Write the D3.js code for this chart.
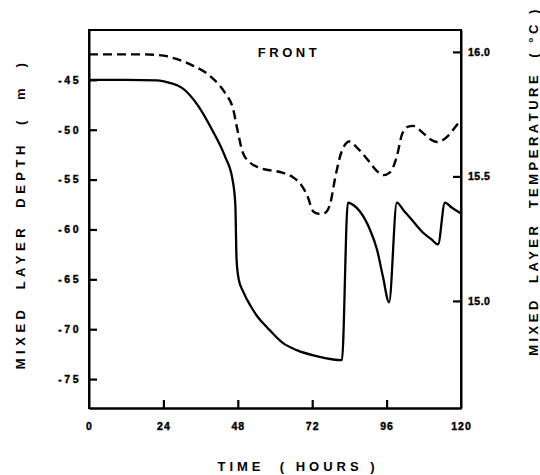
<!DOCTYPE html>
<html>
<head>
<meta charset="utf-8">
<script src="https://cdn.jsdelivr.net/npm/d3@7"></script>
<style>
  html, body { margin: 0; padding: 0; background: #fff; }
  svg { display: block; }
  text { font-family: "Liberation Sans", Arial, sans-serif; font-weight: bold; fill: #000; }
</style>
</head>
<body>
<svg id="chart" width="540" height="475"></svg>
<script>
// ---- data ----
const depthHours  = [0, 12, 22, 26, 30, 35, 39.7, 43.9, 46.3, 47.2, 47.6, 48.3, 49.7, 52, 54.5, 57.4, 62.6, 67, 73.5, 81.6, 83.5, 85.5, 87.4, 90.6, 92.9, 94.8, 96.8, 99.3, 101.5, 103.5, 107.7, 110.5, 112.6, 114.8, 117, 119, 120];
const depthValues = [-45, -45, -45.05, -45.3, -45.8, -47.5, -50, -52.7, -55, -57.5, -63, -65, -66.2, -67.6, -68.8, -69.8, -71.4, -72.1, -72.7, -73.1, -57.3, -57.6, -58.2, -60, -62, -64.7, -67.3, -57.3, -58.1, -58.8, -60.3, -61, -61.5, -57.3, -57.8, -58.2, -58.4];

const tempHours  = [0, 18, 24, 27, 33, 39.7, 43.9, 46.5, 48, 49.5, 52, 55, 62.6, 66, 68.5, 70.5, 72.3, 74, 76, 77.8, 79.5, 81.5, 84, 86.5, 89.7, 93, 95, 97, 99.3, 101, 103, 104.5, 107.7, 110, 112.3, 115.5, 118.7, 120];
const tempValues = [15.99, 15.99, 15.985, 15.976, 15.948, 15.896, 15.835, 15.77, 15.68, 15.6, 15.555, 15.535, 15.514, 15.495, 15.465, 15.42, 15.36, 15.35, 15.353, 15.39, 15.5, 15.6, 15.64, 15.615, 15.57, 15.52, 15.505, 15.515, 15.58, 15.67, 15.7, 15.703, 15.675, 15.65, 15.638, 15.659, 15.707, 15.727];

const xTicks = [0, 24, 48, 72, 96, 120];
const xTickLabels = ["0", "24", "48", "72", "96", "120"];
const depthTicks = [-45, -50, -55, -60, -65, -70, -75];
const depthTickLabels = ["-45", "-50", "-55", "-60", "-65", "-70", "-75"];
const tempTicks = [16.0, 15.5, 15.0];
const tempTickLabels = ["16.0", "15.5", "15.0"];

const xTitle = "TIME  ( HOURS )";
const leftTitle = "MIXED  LAYER  DEPTH  (  m  )";
const rightTitle = "MIXED  LAYER  TEMPERATURE  ( °C )";
const panelLabel = "FRONT";

// ---- layout ----
const mLeft = 89, mRight = 461, mTop = 30, mBottom = 408;
const tickIn = 8, tickOut = 2;
const svg = d3.select("#chart");

const x = d3.scaleLinear().domain([0, 120]).range([mLeft, mRight]);
const yDepth = d3.scaleLinear().domain([-77.9, -40]).range([mBottom, mTop]);
const yTemp = d3.scaleLinear().domain([14.57, 16.088]).range([mBottom, mTop]);

// axes with inward tick marks
const gx = svg.append("g").attr("transform", `translate(0,${mBottom})`)
  .call(d3.axisBottom(x).tickValues(xTicks.slice(1, -1)).tickSizeInner(-tickIn).tickSizeOuter(0).tickPadding(15)
    .tickFormat((d, i) => xTickLabels[i + 1]));
const gx2 = svg.append("g").attr("transform", `translate(0,${mBottom})`)
  .call(d3.axisBottom(x).tickValues([xTicks[0], xTicks[xTicks.length - 1]]).tickSize(0).tickPadding(15)
    .tickFormat((d, i) => i === 0 ? xTickLabels[0] : xTickLabels[xTickLabels.length - 1]));

const gl = svg.append("g").attr("transform", `translate(${mLeft},0)`)
  .call(d3.axisLeft(yDepth).tickValues(depthTicks).tickSizeInner(-tickIn).tickSizeOuter(0).tickPadding(8)
    .tickFormat((d, i) => depthTickLabels[i]));

const gr = svg.append("g").attr("transform", `translate(${mRight},0)`)
  .call(d3.axisRight(yTemp).tickValues(tempTicks).tickSizeInner(-tickIn).tickSizeOuter(0).tickPadding(7)
    .tickFormat((d, i) => tempTickLabels[i]));

gx.selectAll("text").style("font-size", "10.5px").attr("letter-spacing", "1px");
gx2.selectAll("text").style("font-size", "10.5px").attr("letter-spacing", "1px");
gl.selectAll("text").style("font-size", "10.5px").attr("letter-spacing", "2.5px");
gr.selectAll("text").style("font-size", "10.5px").attr("letter-spacing", "0.5px");

[gx, gx2, gl, gr].forEach(g => {
  g.select(".domain").attr("stroke", "#000").attr("stroke-width", 2);
  g.selectAll(".tick line").attr("stroke", "#000").attr("stroke-width", 2.2);
  g.selectAll("text").attr("stroke", "#000").attr("stroke-width", 0.4);
  g.attr("font-family", null).attr("font-size", null);
});

// top border
svg.append("line")
  .attr("x1", mLeft).attr("x2", mRight).attr("y1", mTop).attr("y2", mTop)
  .attr("stroke", "#000").attr("stroke-width", 2);
svg.append("line")
  .attr("x1", mLeft).attr("x2", mLeft).attr("y1", mTop - 1).attr("y2", mBottom + 1)
  .attr("stroke", "#000").attr("stroke-width", 2);
svg.append("line")
  .attr("x1", mRight).attr("x2", mRight).attr("y1", mTop - 1).attr("y2", mBottom + 1)
  .attr("stroke", "#000").attr("stroke-width", 2);

// lines
const depthData = depthHours.map((h, i) => [h, depthValues[i]]);
const tempData = tempHours.map((h, i) => [h, tempValues[i]]);

svg.append("path")
  .datum(depthData)
  .attr("fill", "none").attr("stroke", "#000").attr("stroke-width", 2.3)
  .attr("stroke-linejoin", "round")
  .attr("d", d3.line().x(d => x(d[0])).y(d => yDepth(d[1])).curve(d3.curveMonotoneX));

svg.append("path")
  .datum(tempData)
  .attr("fill", "none").attr("stroke", "#000").attr("stroke-width", 2.4)
  .attr("stroke-dasharray", "9,5")
  .attr("d", d3.line().x(d => x(d[0])).y(d => yTemp(d[1])).curve(d3.curveMonotoneX));

// titles
svg.append("text")
  .attr("x", 298).attr("y", 471)
  .attr("text-anchor", "middle")
  .style("font-size", "13px").attr("letter-spacing", "4px")
  .style("white-space", "pre")
  .text(xTitle);

svg.append("text")
  .attr("transform", "translate(25,214) rotate(-90)")
  .attr("text-anchor", "middle")
  .style("font-size", "13px").attr("letter-spacing", "4.5px")
  .style("white-space", "pre")
  .text(leftTitle);

svg.append("text")
  .attr("transform", "translate(538,181) rotate(-90)")
  .attr("text-anchor", "middle")
  .style("font-size", "13px").attr("letter-spacing", "3.5px")
  .style("white-space", "pre")
  .text(rightTitle);

svg.append("text")
  .attr("x", 289).attr("y", 57)
  .attr("text-anchor", "middle")
  .style("font-size", "13px").attr("letter-spacing", "3.5px")
  .text(panelLabel);
</script>
</body>
</html>
